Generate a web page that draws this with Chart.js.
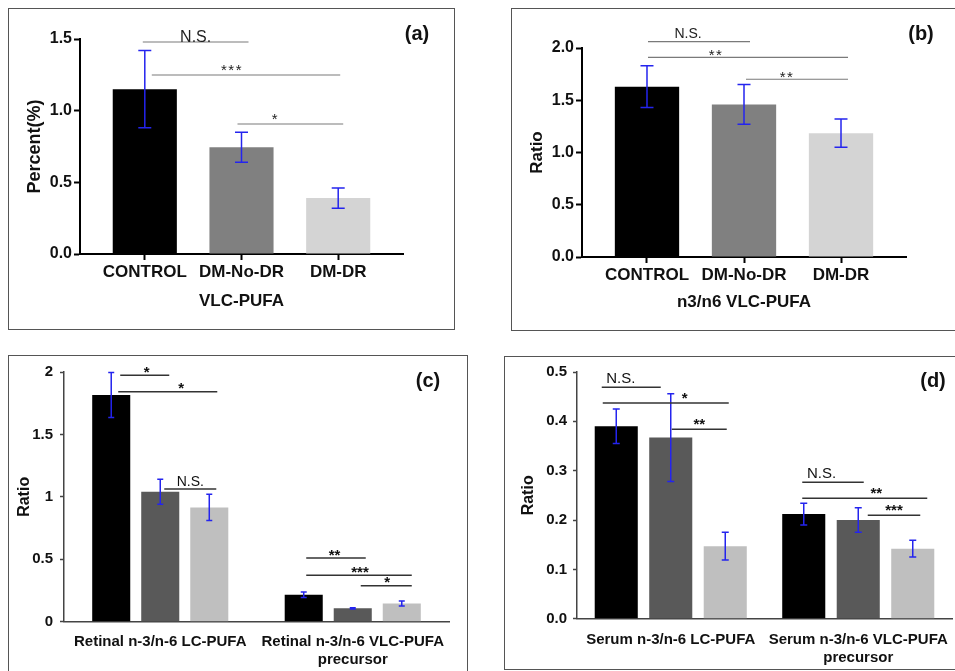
<!DOCTYPE html>
<html>
<head>
<meta charset="utf-8">
<script src="https://cdn.jsdelivr.net/npm/chart.js@4.4.1/dist/chart.umd.min.js"></script>
<style>
html, body { margin: 0; padding: 0; background: #fff; width: 955px; height: 671px; overflow: hidden; }
.panel { position: absolute; border: 1px solid #555; box-sizing: border-box; background: #fff; }
.panel canvas { position: absolute; left: 0; top: 0; }
.tag { position: absolute; font: bold 20px 'Liberation Sans', Arial, sans-serif; color: #111; transform: translate(-50%, -50%); }
</style>
</head>
<body>
<div class="panel" style="left:8px;top:8px;width:447px;height:322px"><canvas id="chartA" width="445" height="320"></canvas></div>
<div class="panel" style="left:511px;top:8px;width:452px;height:323px"><canvas id="chartB" width="448" height="321"></canvas></div>
<div class="panel" style="left:8px;top:355px;width:460px;height:330px"><canvas id="chartC" width="458" height="318"></canvas></div>
<div class="panel" style="left:504px;top:356px;width:460px;height:314px"><canvas id="chartD" width="458" height="312"></canvas></div>
<div class="tag" style="left:417px;top:33px">(a)</div>
<div class="tag" style="left:921px;top:33px">(b)</div>
<div class="tag" style="left:428px;top:380px">(c)</div>
<div class="tag" style="left:933px;top:380px">(d)</div>

<script>
// Groups
const groups = ['CONTROL', 'DM-No-DR', 'DM-DR'];

// (a) VLC-PUFA percent
const vlcMean = [1.15, 0.745, 0.39];
const vlcErr = [0.27, 0.105, 0.07];

// (b) n3/n6 VLC-PUFA ratio
const n3n6Mean = [1.63, 1.46, 1.185];
const n3n6Err = [0.2, 0.19, 0.135];

// (c) retinal ratios
const retinalLabels = [['Retinal n-3/n-6 LC-PUFA'], ['Retinal n-3/n-6 VLC-PUFA', 'precursor']];
const retinalControl = [1.815, 0.215];
const retinalNoDr = [1.04, 0.107];
const retinalDr = [0.915, 0.145];
const retinalControlErr = [0.18, 0.022];
const retinalNoDrErr = [0.1, 0.005];
const retinalDrErr = [0.105, 0.02];

// (d) serum ratios
const serumLabels = [['Serum n-3/n-6 LC-PUFA'], ['Serum n-3/n-6 VLC-PUFA', 'precursor']];
const serumControl = [0.39, 0.212];
const serumNoDr = [0.367, 0.2];
const serumDr = [0.147, 0.142];
const serumControlErr = [0.035, 0.022];
const serumNoDrErr = [0.089, 0.025];
const serumDrErr = [0.028, 0.017];

const FONT = "'Liberation Sans', Arial, sans-serif";
Chart.defaults.font.family = FONT;
Chart.defaults.color = '#111';

// error bars + significance brackets
const overlay = {
    id: 'overlay',
    afterDatasetsDraw(chart, args, opts) {
        const ctx = chart.ctx;
        const ys = chart.scales.y;
        ctx.save();
        ctx.strokeStyle = '#2424ee';
        ctx.lineWidth = 1.5;
        chart.data.datasets.forEach((ds, di) => {
            const meta = chart.getDatasetMeta(di);
            meta.data.forEach((bar, i) => {
                const v = meta.controller.getParsed(i).y;
                const e = ds.errors[i];
                const x = bar.x;
                const y1 = ys.getPixelForValue(v + e);
                const y2 = ys.getPixelForValue(v - e);
                const c = opts.cap;
                ctx.beginPath();
                ctx.moveTo(x, y1); ctx.lineTo(x, y2);
                ctx.moveTo(x - c, y1); ctx.lineTo(x + c, y1);
                ctx.moveTo(x - c, y2); ctx.lineTo(x + c, y2);
                ctx.stroke();
            });
        });
        ctx.restore();
    },
    afterDraw(chart, args, opts) {
        const ctx = chart.ctx;
        const ys = chart.scales.y;
        ctx.save();
        opts.items.forEach(it => {
            const a = chart.getDatasetMeta(it.from[0]).data[it.from[1]];
            const b = chart.getDatasetMeta(it.to[0]).data[it.to[1]];
            const x0 = a.x + it.dx[0];
            const x1 = b.x + it.dx[1];
            const y = ys.getPixelForValue(it.y);
            ctx.strokeStyle = opts.lineColor;
            ctx.lineWidth = opts.lineWidth;
            ctx.beginPath();
            ctx.moveTo(x0, y); ctx.lineTo(x1, y);
            ctx.stroke();
            const ns = it.text === 'N.S.';
            ctx.font = ns ? opts.nsFont : opts.starFont;
            ctx.letterSpacing = ns ? '0px' : (opts.starSpacing || '0px');
            ctx.fillStyle = opts.textColor;
            ctx.textAlign = 'center';
            ctx.textBaseline = 'alphabetic';
            ctx.fillText(it.text, (x0 + x1) / 2 + (it.tx || 0), y + (ns ? opts.nsDy : opts.starDy));
        });
        ctx.restore();
    }
};

function fixed(w) { return s => { s.width = w; }; }
function fixedH(h) { return s => { s.height = h; }; }

function makeSimple(id, means, errs, yOpts, layout, sig) {
    new Chart(document.getElementById(id), {
        type: 'bar',
        data: {
            datasets: [{
                data: means.map((v, i) => ({ x: i, y: v })),
                errors: errs,
                backgroundColor: ['#000000', '#808080', '#d4d4d4'],
                categoryPercentage: 1,
                barPercentage: 0.663
            }]
        },
        options: {
            responsive: false,
            devicePixelRatio: 1,
            animation: false,
            layout: { padding: layout.pad },
            plugins: {
                legend: { display: false },
                tooltip: { enabled: false },
                overlay: Object.assign({ cap: 6.5 }, sig)
            },
            scales: {
                x: {
                    type: 'linear',
                    offset: false,
                    min: -0.67,
                    max: 2.67,
                    afterBuildTicks: s => { s.ticks = groups.map((g, i) => ({ value: i })); },
                    afterFit: fixedH(layout.xH),
                    ticks: {
                        callback: v => groups[v],
                        autoSkip: false,
                        maxRotation: 0,
                        padding: 2,
                        color: '#111',
                        font: { size: 17, weight: 'bold' }
                    },
                    grid: { offset: false, drawOnChartArea: false, drawTicks: true, tickLength: 6, tickWidth: 2, tickColor: '#000' },
                    border: { color: '#000', width: 2 },
                    title: { display: true, text: layout.xTitle, color: '#111', padding: 0, font: { size: 17, weight: 'bold' } }
                },
                y: {
                    min: 0,
                    max: yOpts.max,
                    afterFit: fixed(layout.yW),
                    ticks: {
                        stepSize: 0.5,
                        callback: v => v.toFixed(1),
                        padding: 2,
                        color: '#111',
                        font: { size: 16, weight: 'bold' }
                    },
                    grid: { drawOnChartArea: false, drawTicks: true, tickLength: 6, tickWidth: 2, tickColor: '#000' },
                    border: { color: '#000', width: 2 },
                    title: { display: true, text: yOpts.title, color: '#111', padding: 0, font: { size: yOpts.titleSize, weight: 'bold' } }
                }
            }
        },
        plugins: [overlay]
    });
}

function makeGrouped(id, labels, sets, yOpts, layout, sig) {
    const colors = ['#000000', '#595959', '#bfbfbf'];
    new Chart(document.getElementById(id), {
        type: 'bar',
        data: {
            labels: labels,
            datasets: sets.map((s, k) => ({
                data: s[0],
                errors: s[1],
                backgroundColor: colors[k],
                categoryPercentage: layout.catPct,
                barPercentage: layout.barPct
            }))
        },
        options: {
            responsive: false,
            devicePixelRatio: 1,
            animation: false,
            layout: { padding: layout.pad },
            plugins: {
                legend: { display: false },
                tooltip: { enabled: false },
                overlay: Object.assign({ cap: layout.cap }, sig)
            },
            scales: {
                x: {
                    afterFit: fixedH(layout.xH),
                    ticks: {
                        autoSkip: false,
                        maxRotation: 0,
                        padding: layout.xPad,
                        color: '#111',
                        font: { size: 15, weight: 'bold' }
                    },
                    grid: { display: false, drawTicks: false },
                    border: { color: '#444', width: 1.5 }
                },
                y: {
                    min: 0,
                    max: yOpts.max,
                    afterFit: fixed(layout.yW),
                    ticks: {
                        stepSize: yOpts.step,
                        callback: yOpts.fmt,
                        padding: layout.tickPad,
                        color: '#111',
                        font: { size: 15, weight: 'bold' }
                    },
                    grid: { drawOnChartArea: false, drawTicks: true, tickLength: 4, tickWidth: 1.5, tickColor: '#444' },
                    border: { color: '#444', width: 1.5 },
                    title: { display: true, text: 'Ratio', color: '#111', padding: 0, font: { size: 16, weight: 'bold' } }
                }
            }
        },
        plugins: [overlay]
    });
}

// (a)
makeSimple('chartA', vlcMean, vlcErr,
    { max: 1.5, title: 'Percent(%)', titleSize: 18 },
    { pad: { left: 15, top: 30, right: 51, bottom: 17 }, yW: 56, xH: 58, xTitle: 'VLC-PUFA' },
    {
        lineColor: '#7a7a7a', lineWidth: 1.2, textColor: '#222',
        nsFont: '16px ' + FONT, starFont: '15px ' + FONT, starSpacing: '1.5px', nsDy: 0, starDy: 0,
        items: [
            { from: [0, 0], to: [0, 1], y: 1.479, text: 'N.S.', dx: [-2, 7], tx: 0 },
            { from: [0, 0], to: [0, 2], y: 1.249, text: '***', dx: [7, 2], tx: -14 },
            { from: [0, 1], to: [0, 2], y: 0.907, text: '*', dx: [-4, 5], tx: -15 }
        ]
    });

// (b)
makeSimple('chartB', n3n6Mean, n3n6Err,
    { max: 2.0, title: 'Ratio', titleSize: 17 },
    { pad: { left: 15, top: 39, right: 54, bottom: 17 }, yW: 55, xH: 56, xTitle: 'n3/n6 VLC-PUFA' },
    {
        lineColor: '#7a7a7a', lineWidth: 1.2, textColor: '#222',
        nsFont: '14px ' + FONT, starFont: '15px ' + FONT, starSpacing: '1.5px', nsDy: -4, starDy: 3,
        items: [
            { from: [0, 0], to: [0, 1], y: 2.061, text: 'N.S.', dx: [1, 6], tx: -11 },
            { from: [0, 0], to: [0, 2], y: 1.911, text: '**', dx: [1, 7], tx: -32 },
            { from: [0, 1], to: [0, 2], y: 1.701, text: '**', dx: [2, 7], tx: -10 }
        ]
    });

// (c)
makeGrouped('chartC', retinalLabels,
    [[retinalControl, retinalControlErr], [retinalNoDr, retinalNoDrErr], [retinalDr, retinalDrErr]],
    { max: 2, step: 0.5, fmt: v => String(v) },
    { pad: { left: 6.4, top: 14.7, right: 18, bottom: 0 }, yW: 48.6, xH: 52.3, xPad: 11, tickPad: 7, catPct: 0.764, barPct: 0.776, cap: 3 },
    {
        lineColor: '#333', lineWidth: 1.5, textColor: '#111',
        nsFont: '14px ' + FONT, starFont: 'bold 15px ' + FONT, nsDy: -3, starDy: 1.5,
        items: [
            { from: [0, 0], to: [1, 0], y: 1.974, text: '*', dx: [9, 9], tx: 2 },
            { from: [0, 0], to: [2, 0], y: 1.841, text: '*', dx: [7, 8], tx: 13.5 },
            { from: [1, 0], to: [2, 0], y: 1.063, text: 'N.S.', dx: [4, 7], tx: 0 },
            { from: [0, 1], to: [1, 1], y: 0.510, text: '**', dx: [2.5, 13], tx: -1.5 },
            { from: [0, 1], to: [2, 1], y: 0.372, text: '***', dx: [2.5, 10], tx: 1 },
            { from: [1, 1], to: [2, 1], y: 0.287, text: '*', dx: [8, 10], tx: 1 }
        ]
    });

// (d)
makeGrouped('chartD', serumLabels,
    [[serumControl, serumControlErr], [serumNoDr, serumNoDrErr], [serumDr, serumDrErr]],
    { max: 0.5, step: 0.1, fmt: v => v.toFixed(1) },
    { pad: { left: 14.4, top: 15, right: 11, bottom: 0.3 }, yW: 57.6, xH: 50, xPad: 12, tickPad: 6, catPct: 0.872, barPct: 0.79, cap: 3.5 },
    {
        lineColor: '#333', lineWidth: 1.5, textColor: '#111',
        nsFont: '15px ' + FONT, starFont: 'bold 15px ' + FONT, nsDy: -4, starDy: -0.5,
        items: [
            { from: [0, 0], to: [1, 0], y: 0.469, text: 'N.S.', dx: [-14.5, -10], tx: -10.5 },
            { from: [0, 0], to: [2, 0], y: 0.437, text: '*', dx: [-13.5, 3.5], tx: 19 },
            { from: [1, 0], to: [2, 0], y: 0.384, text: '**', dx: [1, 1.5], tx: 0 },
            { from: [0, 1], to: [1, 1], y: 0.2765, text: 'N.S.', dx: [-1.5, 5.5], tx: -11.5 },
            { from: [0, 1], to: [2, 1], y: 0.244, text: '**', dx: [-1.5, 14.5], tx: 11.5 },
            { from: [1, 1], to: [2, 1], y: 0.2096, text: '***', dx: [9.5, 7.5], tx: 0 }
        ]
    });
</script>
</body>
</html>
